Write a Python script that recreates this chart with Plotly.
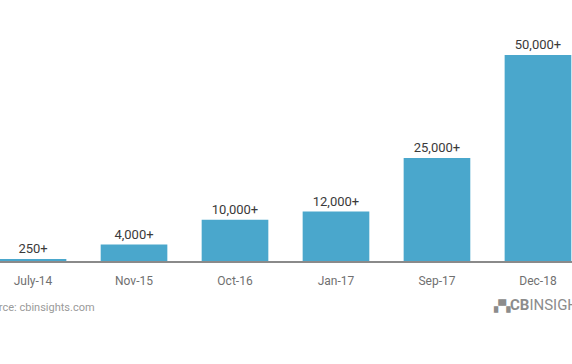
import plotly.graph_objects as go

categories = ["July-14", "Nov-15", "Oct-16", "Jan-17", "Sep-17", "Dec-18"]
values = [250, 4000, 10000, 12000, 25000, 50000]
labels = ["250+", "4,000+", "10,000+", "12,000+", "25,000+", "50,000+"]

W, H = 572, 364
fig = go.Figure()
fig.add_trace(go.Bar(
    x=categories, y=values, text=labels, textposition="outside",
    textfont=dict(family="Roboto", size=13, color="#3a3a3a"),
    marker=dict(color="#4aa7cc", line=dict(width=0)),
    width=0.66, cliponaxis=False,
))
fig.update_layout(
    width=W, height=H,
    margin=dict(l=0, r=0, t=20, b=103),
    paper_bgcolor="white", plot_bgcolor="white",
    showlegend=False,
    xaxis=dict(range=[-0.327, 5.337], showgrid=False, zeroline=False,
               showline=True, linecolor="#8a8a8a", linewidth=1.5,
               ticks="", ticklabelstandoff=8,
               tickfont=dict(family="Roboto", size=12, color="#707070")),
    yaxis=dict(range=[0, 58495], visible=False),
    font=dict(family="Roboto"),
)
fig.add_annotation(xref="paper", yref="paper", x=-22 / W, y=-(307 - 261) / 241,
                   xanchor="left", yanchor="middle", showarrow=False,
                   text="Source: cbinsights.com",
                   font=dict(family="Roboto", size=11, color="#9a9a9a"))
fig.add_annotation(xref="paper", yref="paper", x=491 / W, y=-(305 - 261) / 241,
                   xanchor="left", yanchor="middle", showarrow=False,
                   text="<span style='font-size:11px'>▞▚</span><b>CB</b>INSIGHTS",
                   font=dict(family="Roboto", size=15, color="#8c8c8c"))
fig.write_html("out.html")
